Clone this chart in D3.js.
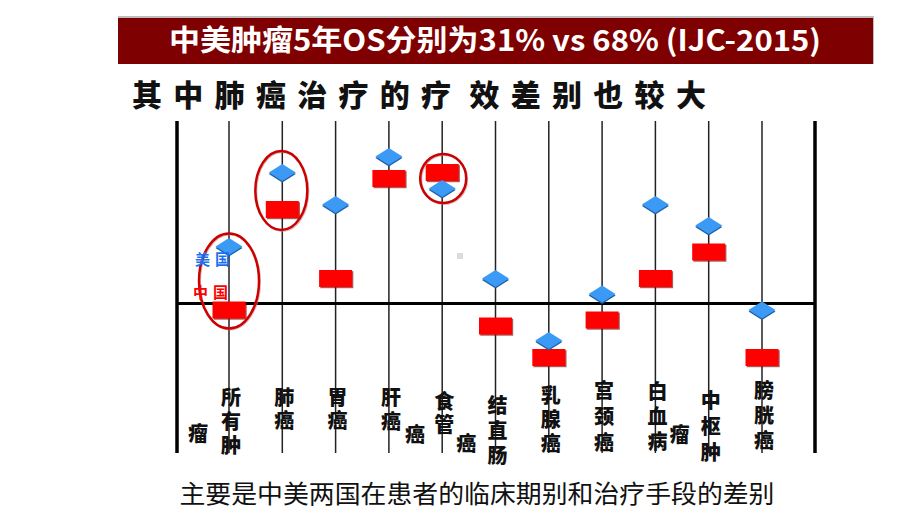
<!DOCTYPE html>
<html><head><meta charset="utf-8">
<script src="https://cdn.jsdelivr.net/npm/d3@7"></script>
<style>
html,body{margin:0;padding:0;background:#fff;}
svg{display:block;}
</style></head>
<body>
<svg id="c" width="920" height="518"></svg>
<script>
// ---- data ----
const categories = ["所有肿瘤","肺癌","胃癌","肝癌","食管癌","结直肠","乳腺癌","宫颈癌","白血病瘤","中枢肿","膀胱癌"];
const usValues    = [5.7, 13.1, 9.9, 14.7, 11.5, 2.5, -3.7, 0.95, 9.9, 7.8, -0.65];   // 美国 (diamond)
const chinaValues = [-0.65, 9.4, 2.5, 12.5, 13.1, -2.25, -5.4, -1.65, 2.5, 5.15, -5.4]; // 中国 (bar)
const circled = [0, 1, 4];
const titleText = "中美肿瘤5年OS分别为31% vs 68% (IJC-2015)";
const subtitleText = "其中肺癌治疗的疗效差别也较大";
const captionText = "主要是中美两国在患者的临床期别和治疗手段的差别";
const legendLabels = ["美国","中国"];

// ---- layout ----
const svg = d3.select("#c");
const x = d3.scalePoint().domain(categories).range([229, 762]);
const y = d3.scaleLinear().domain([-15, 18]).range([453.5, 123.5]);
const plotLeft = 177, plotRight = 815, lineTop = 121, lineBottom = 453;

// title bar
svg.append("rect").attr("x",118).attr("y",16).attr("width",756).attr("height",48).attr("fill","#bdbdbd");
svg.append("rect").attr("x",118).attr("y",18).attr("width",755).attr("height",46).attr("fill","#7f0000");
svg.append("text").attr("x",495).attr("y",51).attr("text-anchor","middle")
  .attr("font-family","'Noto Sans CJK SC','Noto Sans',sans-serif").attr("font-weight",700)
  .attr("font-size",29).attr("fill","#fff")
  .attr("textLength",652).attr("lengthAdjust","spacingAndGlyphs").text(titleText);

// subtitle (individual glyphs)
const subChars = Array.from(subtitleText);
svg.append("g").selectAll("text").data(subChars).join("text")
  .attr("x",(d,i)=>147 + i*41.3 + (i>=8?7:0)).attr("y",106).attr("text-anchor","middle")
  .attr("font-family","'Noto Sans CJK SC',sans-serif").attr("font-weight",900)
  .attr("font-size",30).attr("fill","#111").text(d=>d);

// vertical lines
svg.append("g").selectAll("line").data(categories).join("line")
  .attr("x1",d=>x(d)).attr("x2",d=>x(d)).attr("y1",lineTop).attr("y2",lineBottom)
  .attr("stroke","#222").attr("stroke-width",1.5);
svg.append("line").attr("x1",plotLeft).attr("x2",plotLeft).attr("y1",lineTop).attr("y2",lineBottom)
  .attr("stroke","#000").attr("stroke-width",3.5);
svg.append("line").attr("x1",plotRight).attr("x2",plotRight).attr("y1",lineTop).attr("y2",lineBottom)
  .attr("stroke","#000").attr("stroke-width",3.5);
// baseline
svg.append("line").attr("x1",plotLeft).attr("x2",plotRight).attr("y1",y(0)).attr("y2",y(0))
  .attr("stroke","#000").attr("stroke-width",3);

// small gray square
svg.append("rect").attr("x",457).attr("y",253).attr("width",6).attr("height",6).attr("fill","#dcdcdc");

// China bars
const bw = 33, bh = 17;
const bars = svg.append("g");
bars.selectAll("rect.sh").data(chinaValues).join("rect").attr("class","sh")
  .attr("x",(d,i)=>x(categories[i])-bw/2+1.2).attr("y",d=>y(d)-bh/2+1.2)
  .attr("width",bw).attr("height",bh).attr("fill","#8a1010").attr("opacity",0.7);
bars.selectAll("rect.b").data(chinaValues).join("rect").attr("class","b")
  .attr("x",(d,i)=>x(categories[i])-bw/2).attr("y",d=>y(d)-bh/2)
  .attr("width",bw).attr("height",bh).attr("fill","#ff0000");

// US diamonds
const dw = 13.5, dh = 8.5;
const dia = svg.append("g");
dia.selectAll("path.sh").data(usValues).join("path").attr("class","sh")
  .attr("d",(d,i)=>{const cx=x(categories[i]), cy=y(d)+1.5;return `M${cx-dw},${cy}L${cx},${cy-dh}L${cx+dw},${cy}L${cx},${cy+dh}Z`;})
  .attr("fill","#1f5fa8");
dia.selectAll("path.d").data(usValues).join("path").attr("class","d")
  .attr("d",(d,i)=>{const cx=x(categories[i]), cy=y(d);return `M${cx-dw},${cy}L${cx},${cy-dh}L${cx+dw},${cy}L${cx},${cy+dh}Z`;})
  .attr("fill","#3a9af5");

// ellipses around circled categories
const ellipseSpec = {0:{dy:-29,rx:30,ry:47.5}, 1:{dy:-17,rx:26,ry:39.5}, 4:{dy:-10.5,rx:23,ry:24.5}};
const ell = svg.append("g");
circled.forEach(i=>{
  const s = ellipseSpec[i];
  const cy = (y(usValues[i])+y(chinaValues[i]))/2;
  const cx = x(categories[i]) + (i===1?-1:(i===4?1:0));
  const ey = i===0 ? y(chinaValues[i]) + s.dy : (i===1 ? cy-0.5 : cy-2);
  ell.append("ellipse").attr("cx",cx+1).attr("cy",ey+1).attr("rx",s.rx).attr("ry",s.ry)
    .attr("fill","none").attr("stroke","#b88").attr("stroke-width",2).attr("opacity",0.6);
  ell.append("ellipse").attr("cx",cx).attr("cy",ey).attr("rx",s.rx).attr("ry",s.ry)
    .attr("fill","none").attr("stroke","#cc0000").attr("stroke-width",2.5);
});

// legend labels
svg.append("text").attr("x",215).attr("y",265).attr("text-anchor","middle")
  .attr("font-family","'Noto Sans CJK SC',sans-serif").attr("font-weight",700).attr("font-size",15)
  .attr("letter-spacing",5).attr("fill","#1a6ff0").text(legendLabels[0]);
svg.append("text").attr("x",213).attr("y",298).attr("text-anchor","middle")
  .attr("font-family","'Noto Sans CJK SC',sans-serif").attr("font-weight",700).attr("font-size",15)
  .attr("letter-spacing",5).attr("fill","#ff0000").text(legendLabels[1]);

// category labels (vertical text, with displaced trailing glyphs as in the original)
const labelLayout = [
  {top:387, ls:4, stray:{dx:-33, top:423}},
  {top:387, ls:3},
  {top:387, ls:3},
  {top:387, ls:4, extra:"癌", exDx:24, exTop:424},
  {top:391, ls:3, stray:{dx:22, top:433}},
  {top:395, ls:5},
  {top:385, ls:4},
  {top:380, ls:6},
  {top:381, ls:5, stray:{dx:22, top:424}},
  {top:390, ls:6},
  {top:380, ls:5}
];
const labG = svg.append("g").attr("font-family","'Noto Sans CJK SC',sans-serif").attr("font-weight",900)
  .attr("font-size",20).attr("fill","#111");
categories.forEach((c,i)=>{
  const L = labelLayout[i];
  let chars = Array.from(c);
  let strayChar = null;
  if (L.stray){ strayChar = chars.pop(); }
  const cx = x(c) + 2;
  labG.append("text").attr("writing-mode","tb").attr("x",cx).attr("y",L.top)
    .attr("letter-spacing",L.ls).text(chars.join(""));
  if (strayChar) labG.append("text").attr("writing-mode","tb").attr("x",cx+L.stray.dx).attr("y",L.stray.top).text(strayChar);
  if (L.extra) labG.append("text").attr("writing-mode","tb").attr("x",cx+L.exDx).attr("y",L.exTop).text(L.extra);
});

// caption
svg.append("text").attr("x",477).attr("y",503).attr("text-anchor","middle")
  .attr("font-family","'Noto Sans CJK SC',sans-serif").attr("font-weight",400).attr("font-size",25)
  .attr("fill","#111").attr("textLength",595).attr("lengthAdjust","spacingAndGlyphs").text(captionText);
</script>
</body></html>
